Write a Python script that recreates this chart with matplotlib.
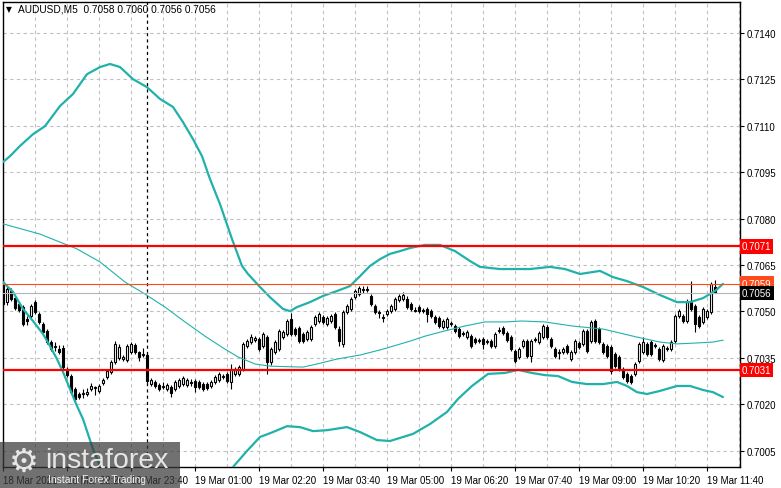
import matplotlib
matplotlib.use("Agg")
import matplotlib.pyplot as plt
import matplotlib.transforms as mtransforms
from matplotlib.patches import Rectangle
import numpy as np

plt.rcParams['font.family'] = ['Liberation Sans', 'DejaVu Sans']

# ---------------- data (AUDUSD M5, 18 Mar 21:00 -> 19 Mar 11:50) ----------------
opens = [
    .70589, .70531, .70567, .70544, .70525, .70515, .70476, .70486, .70531, .70492,
    .70460, .70437, .70402, .70385, .70379, .70382, .70312, .70292, .70250, .70234,
    .70232, .70234, .70250, .70253, .70244, .70269, .70289, .70305, .70337, .70350,
    .70347, .70344, .70369, .70392, .70369, .70360, .70360, .70266, .70273, .70263,
    .70257, .70250, .70257, .70250, .70260, .70266, .70263, .70273, .70276, .70273,
    .70266, .70266, .70260, .70273, .70279, .70289, .70299, .70273, .70299, .70299,
    .70315, .70389, .70402, .70408, .70412, .70389, .70418, .70337, .70369, .70379,
    .70418, .70428, .70476, .70444, .70447, .70428, .70412, .70412, .70460, .70470,
    .70483, .70460, .70470, .70492, .70444, .70395, .70499, .70509, .70547, .70557,
    .70570, .70573, .70550, .70518, .70497, .70483, .70492, .70502, .70509, .70538,
    .70541, .70541, .70525, .70505, .70515, .70505, .70509, .70502, .70483, .70479,
    .70450, .70450, .70460, .70454, .70444, .70431, .70418, .70421, .70412, .70405,
    .70412, .70402, .70405, .70389, .70437, .70447, .70431, .70418, .70373, .70353,
    .70389, .70405, .70356, .70408, .70402, .70418, .70450, .70412, .70379, .70366,
    .70369, .70389, .70347, .70369, .70398, .70395, .70437, .70405, .70470, .70444,
    .70395, .70389, .70386, .70363, .70353, .70315, .70299, .70292, .70299, .70340,
    .70369, .70395, .70402, .70392, .70379, .70344, .70379, .70379, .70405, .70486,
    .70486, .70470, .70531, .70518, .70483, .70466, .70483, .70499, .70580]
highs = [
    .70600, .70583, .70576, .70550, .70531, .70520, .70486, .70525, .70538, .70499,
    .70466, .70444, .70408, .70402, .70392, .70392, .70321, .70299, .70256, .70240,
    .70250, .70253, .70270, .70260, .70266, .70286, .70315, .70344, .70405, .70395,
    .70360, .70395, .70402, .70398, .70373, .70382, .70366, .70286, .70279, .70270,
    .70273, .70270, .70263, .70279, .70286, .70292, .70286, .70282, .70282, .70279,
    .70273, .70273, .70279, .70295, .70305, .70299, .70305, .70331, .70321, .70328,
    .70402, .70412, .70428, .70421, .70418, .70434, .70424, .70385, .70408, .70444,
    .70441, .70476, .70495, .70450, .70454, .70434, .70441, .70457, .70489, .70499,
    .70489, .70486, .70492, .70499, .70454, .70505, .70525, .70547, .70573, .70583,
    .70583, .70583, .70557, .70525, .70505, .70492, .70509, .70525, .70547, .70557,
    .70563, .70550, .70531, .70515, .70521, .70512, .70515, .70509, .70489, .70486,
    .70476, .70483, .70470, .70460, .70450, .70437, .70441, .70428, .70418, .70415,
    .70418, .70412, .70412, .70434, .70450, .70454, .70437, .70424, .70379, .70385,
    .70412, .70412, .70412, .70418, .70437, .70460, .70457, .70418, .70385, .70379,
    .70385, .70395, .70376, .70412, .70405, .70444, .70444, .70473, .70476, .70450,
    .70402, .70395, .70392, .70369, .70360, .70321, .70305, .70299, .70337, .70402,
    .70418, .70402, .70408, .70398, .70385, .70395, .70389, .70408, .70492, .70509,
    .70492, .70540, .70599, .70525, .70489, .70515, .70509, .70596, .70600]
lows = [
    .70518, .70520, .70535, .70505, .70499, .70454, .70457, .70480, .70492, .70460,
    .70428, .70395, .70373, .70373, .70363, .70315, .70289, .70234, .70211, .70218,
    .70221, .70227, .70244, .70230, .70237, .70263, .70282, .70299, .70331, .70344,
    .70340, .70337, .70363, .70363, .70340, .70353, .70270, .70260, .70253, .70244,
    .70250, .70244, .70224, .70244, .70253, .70260, .70257, .70260, .70240, .70250,
    .70244, .70247, .70253, .70266, .70273, .70282, .70270, .70250, .70292, .70292,
    .70308, .70382, .70395, .70402, .70373, .70382, .70299, .70328, .70363, .70373,
    .70412, .70421, .70421, .70421, .70399, .70399, .70405, .70405, .70454, .70463,
    .70460, .70454, .70463, .70444, .70389, .70386, .70492, .70502, .70541, .70550,
    .70560, .70563, .70518, .70492, .70480, .70466, .70486, .70495, .70502, .70531,
    .70534, .70509, .70502, .70499, .70495, .70495, .70466, .70480, .70460, .70447,
    .70444, .70444, .70454, .70431, .70415, .70421, .70412, .70382, .70395, .70399,
    .70379, .70395, .70382, .70382, .70431, .70424, .70402, .70373, .70334, .70347,
    .70382, .70350, .70337, .70402, .70395, .70412, .70412, .70382, .70350, .70347,
    .70363, .70363, .70340, .70363, .70379, .70389, .70366, .70399, .70399, .70395,
    .70363, .70350, .70299, .70318, .70308, .70282, .70270, .70266, .70292, .70334,
    .70363, .70356, .70356, .70382, .70340, .70337, .70373, .70373, .70399, .70479,
    .70463, .70463, .70502, .70434, .70447, .70460, .70476, .70492, .70560]
closes = [
    .70525, .70573, .70541, .70512, .70505, .70460, .70470, .70518, .70499, .70466,
    .70434, .70402, .70379, .70389, .70369, .70321, .70296, .70240, .70218, .70224,
    .70236, .70240, .70260, .70256, .70260, .70279, .70308, .70337, .70395, .70385,
    .70353, .70389, .70395, .70369, .70353, .70363, .70276, .70279, .70260, .70250,
    .70260, .70263, .70237, .70273, .70279, .70286, .70279, .70270, .70257, .70257,
    .70250, .70253, .70273, .70289, .70299, .70292, .70276, .70315, .70315, .70321,
    .70395, .70405, .70418, .70415, .70379, .70428, .70337, .70379, .70402, .70437,
    .70434, .70470, .70428, .70428, .70405, .70405, .70434, .70450, .70483, .70492,
    .70466, .70479, .70486, .70450, .70405, .70499, .70518, .70541, .70567, .70576,
    .70573, .70570, .70525, .70499, .70494, .70480, .70502, .70518, .70541, .70550,
    .70553, .70515, .70509, .70502, .70502, .70502, .70492, .70486, .70466, .70454,
    .70470, .70476, .70463, .70437, .70421, .70428, .70434, .70389, .70402, .70408,
    .70395, .70405, .70389, .70428, .70441, .70431, .70408, .70379, .70340, .70379,
    .70405, .70356, .70405, .70412, .70431, .70454, .70418, .70389, .70356, .70369,
    .70379, .70369, .70369, .70405, .70386, .70437, .70373, .70466, .70405, .70402,
    .70369, .70356, .70308, .70324, .70315, .70289, .70276, .70273, .70331, .70395,
    .70402, .70363, .70363, .70389, .70347, .70389, .70382, .70402, .70486, .70502,
    .70470, .70531, .70509, .70460, .70454, .70509, .70502, .70589, .70560]

# Bollinger bands (bar index, price)
upper_idx = [0, 1.75, 4.25, 7.5, 10.5, 14.25, 17.5, 21, 24.25, 26.75, 29.25, 32.5, 36, 39.25,
             42.5, 45, 47.5, 49.75, 51.75, 54.25, 57.25, 59.75, 61.25, 64.25, 66.75, 70, 71.75,
             73.5, 76.75, 80, 83.5, 86.75, 89.25, 91.75, 94.25, 96.75, 99.25, 101.75, 105.5,
             109.25, 113, 116.75, 119.25, 124.25, 131.75, 136.75, 140.5, 144.25, 149.25, 152.5,
             156, 160, 164.25, 168.5, 171.75, 175, 178, 180]
upper_val = [0.70983, 0.71002, 0.71035, 0.71073, 0.71099, 0.71164, 0.71203, 0.71267, 0.71290,
             0.71300, 0.71290, 0.71251, 0.71225, 0.71187, 0.71161, 0.71112, 0.71057, 0.71002,
             0.70928, 0.70847, 0.70734, 0.70647, 0.70621, 0.70579, 0.70546, 0.70508, 0.70501,
             0.70514, 0.70530, 0.70550, 0.70566, 0.70582, 0.70614, 0.70647, 0.70669, 0.70686,
             0.70695, 0.70705, 0.70715, 0.70715, 0.70695, 0.70663, 0.70644, 0.70637, 0.70637,
             0.70644, 0.70637, 0.70621, 0.70631, 0.70611, 0.70598, 0.70579, 0.70553, 0.70530,
             0.70530, 0.70543, 0.70566, 0.70589]
lower_idx = [0, 2.5, 5, 7.5, 10, 11.75, 13.5, 15, 16.75, 18.5, 20, 22.5, 24.25, 26.75, 30, 36,
             44, 50, 55, 57.5, 61, 64.25, 67.5, 71, 74.25, 77.5, 81, 86, 89.25, 93.5, 96.75,
             99.25, 102.5, 106.75, 111, 113.75, 117.25, 121.25, 125.5, 128.75, 132.25, 135.5,
             138.75, 142.25, 146, 150, 153.5, 156, 158.5, 161, 164.25, 168.5, 171.75, 175,
             177.5, 180]
lower_val = [0.70595, 0.70563, 0.70508, 0.70469, 0.70427, 0.70388, 0.70346, 0.70304, 0.70249,
             0.70194, 0.70152, 0.70055, 0.70000, 0.69960, 0.69905, 0.69887, 0.69830, 0.69830,
             0.69896, 0.69997, 0.70049, 0.70094, 0.70110, 0.70129, 0.70126, 0.70113, 0.70116,
             0.70126, 0.70110, 0.70084, 0.70081, 0.70091, 0.70104, 0.70136, 0.70175, 0.70217,
             0.70259, 0.70298, 0.70301, 0.70311, 0.70301, 0.70294, 0.70291, 0.70272, 0.70265,
             0.70265, 0.70272, 0.70259, 0.70239, 0.70233, 0.70243, 0.70259, 0.70259, 0.70246,
             0.70239, 0.70223]
mid_idx = [0, 9.25, 18.5, 24.25, 30.5, 35.5, 40.5, 45.5, 50.5, 55.5, 58.75, 63, 66.75, 75, 78.5,
           83.5, 89.25, 95, 101.75, 105.5, 110.5, 115.5, 120.5, 125.5, 129.75, 135.5, 142.25,
           150, 158.5, 164.25, 168.5, 173.5, 177.5, 180]
mid_val = [0.70783, 0.70750, 0.70702, 0.70660, 0.70595, 0.70556, 0.70514, 0.70466, 0.70420,
           0.70378, 0.70353, 0.70330, 0.70323, 0.70320, 0.70330, 0.70346, 0.70359, 0.70378,
           0.70404, 0.70420, 0.70437, 0.70453, 0.70466, 0.70466, 0.70469, 0.70466, 0.70453,
           0.70443, 0.70417, 0.70401, 0.70395, 0.70398, 0.70401, 0.70407]

price_ticks = [0.7005, 0.7020, 0.7035, 0.7050, 0.7065, 0.7080, 0.7095, 0.7110, 0.7125, 0.7140]
time_tick_idx = [0, 16, 32, 48, 64, 80, 96, 112, 128, 144, 160, 176]
time_labels = ['18 Mar 2021', '18 Mar 22:20', '18 Mar 23:40', '19 Mar 01:00', '19 Mar 02:20',
               '19 Mar 03:40', '19 Mar 05:00', '19 Mar 06:20', '19 Mar 07:40', '19 Mar 09:00',
               '19 Mar 10:20', '19 Mar 11:40']
day_separator_idx = 36
resistance = 0.7071
support = 0.7031
ask_price = 0.7059
bid_price = 0.7056
title = 'AUDUSD,M5  0.7058 0.7060 0.7056 0.7056'

# ---------------- figure ----------------
W, H = 781, 489
fig = plt.figure(figsize=(W / 100, H / 100), dpi=100)
fig.patch.set_facecolor('white')
ax = fig.add_axes([2.5 / W, 21 / H, (740 - 2.5) / W, (468 - 2.5) / H])
ax.set_xlim(-0.125, 184.25)
ax.set_ylim(0.69997, 0.71502)

# grid
grid_kw = dict(color='#c0c0c0', linestyle=(0, (3, 3)), linewidth=0.8, zorder=0)
for gx in np.arange(8, 185, 8):
    ax.axvline(gx, **grid_kw)
for gy in price_ticks:
    ax.axhline(gy, **grid_kw)

# day separator
ax.axvline(day_separator_idx, color='black', linestyle=(0, (2.5, 2.5)), linewidth=0.9, zorder=1)

# candles
idx = np.arange(len(opens))
o = np.array(opens); c = np.array(closes); hi = np.array(highs); lo = np.array(lows)
ax.vlines(idx, lo, hi, color='black', linewidth=0.8, zorder=2)
bull = c >= o
body_bottom = np.minimum(o, c)
body_h = np.maximum(np.abs(c - o), 0.000004)
ax.bar(idx[bull], body_h[bull], bottom=body_bottom[bull], width=0.55,
       facecolor='white', edgecolor='black', linewidth=0.8, zorder=3)
ax.bar(idx[~bull], body_h[~bull], bottom=body_bottom[~bull], width=0.55,
       facecolor='black', edgecolor='black', linewidth=0.8, zorder=3)

# bands
teal = '#20b2aa'
ax.plot(upper_idx, upper_val, color=teal, linewidth=1.6, zorder=4,
        solid_capstyle='round', solid_joinstyle='round')
ax.plot(lower_idx, lower_val, color=teal, linewidth=1.6, zorder=4,
        solid_capstyle='round', solid_joinstyle='round')
ax.plot(mid_idx, mid_val, color=teal, linewidth=0.8, zorder=4, solid_joinstyle='round')

# horizontal levels
ax.axhline(resistance, color='#ff0000', linewidth=1.6, zorder=5)
ax.axhline(support, color='#ff0000', linewidth=1.6, zorder=5)
ax.axhline(ask_price, color='#ff4a1c', linewidth=0.8, zorder=5)
ax.axhline(bid_price, color='#b4b4b4', linewidth=0.8, zorder=5)

# axes styling
for s in ax.spines.values():
    s.set_color('black'); s.set_linewidth(1.0)
ax.yaxis.tick_right()
ax.set_yticks(price_ticks)
ax.set_yticklabels(['%.4f' % p for p in price_ticks])
ax.set_xticks(time_tick_idx)
ax.set_xticklabels(time_labels)
for lab in ax.get_xticklabels():
    lab.set_horizontalalignment('left')
ax.tick_params(axis='y', which='both', direction='out', length=3, width=0.8,
               labelsize=7, pad=2, colors='black')
ax.tick_params(axis='x', which='both', direction='out', length=3, width=0.8,
               labelsize=7, pad=3, colors='black')

# price boxes at right
tr = mtransforms.blended_transform_factory(ax.transAxes, ax.transData)
for val, fc in [(resistance, '#ff0000'), (support, '#ff0000'), (ask_price, '#ff4a1c'),
                (bid_price, '#000000')]:
    ax.text(1.0025, val, '%.4f' % val, transform=tr, ha='left', va='center', fontsize=7,
            color='white', clip_on=False, zorder=10,
            bbox=dict(boxstyle='square,pad=0.22', fc=fc, ec='none'))

# title
fig.text(6 / W, 1 - 10 / H, '▼', fontsize=5.5, ha='left', va='center', color='black',
         family=['DejaVu Sans'])
fig.text(18 / W, 1 - 10 / H, title, fontsize=7.3, ha='left', va='center', color='black')

# watermark
fig.patches.append(Rectangle((0, 0), 180 / W, 46 / H, transform=fig.transFigure,
                             facecolor='#3a3a3a', alpha=0.72, edgecolor='none', zorder=20))
fig.text(24 / W, (489 - 462) / H, '⚙', fontsize=24, ha='center', va='center',
         color='#e6e6e6', family=['DejaVu Sans'], zorder=21)
fig.text(45 / W, (489 - 461) / H, 'instaforex', fontsize=20.5, ha='left', va='center',
         color='#e6e6e6', zorder=21)
fig.text(48 / W, (489 - 480) / H, 'Instant Forex Trading', fontsize=7.5, ha='left', va='center',
         color='#f0f0f0', zorder=21)

fig.savefig('out.png', dpi=100)
